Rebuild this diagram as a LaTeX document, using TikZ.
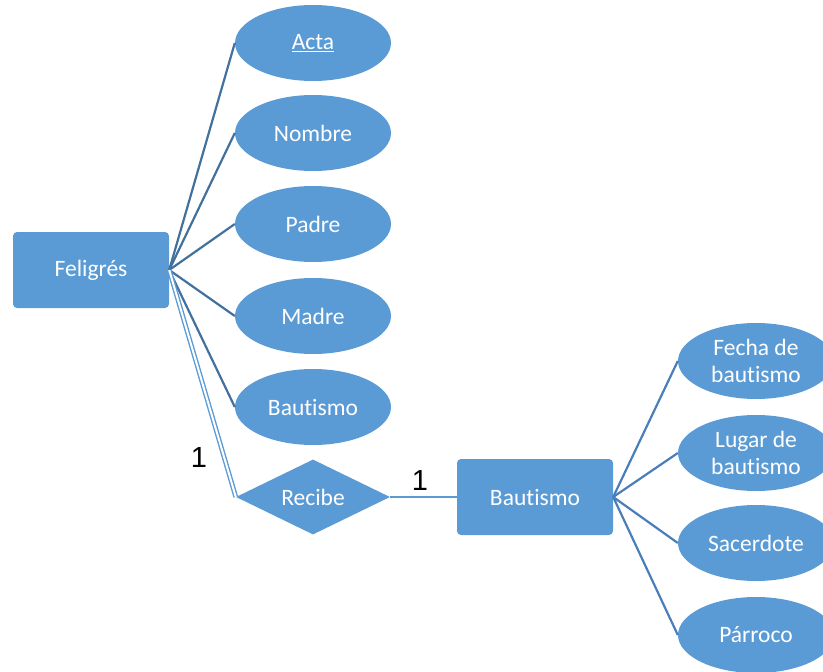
\documentclass[tikz,border=0pt]{standalone}
\usepackage{fontspec}
\setmainfont{Carlito}[Ligatures=NoCommon]
\newfontfamily\numfont{Liberation Sans}
\usetikzlibrary{shapes.geometric}
\definecolor{boxblue}{HTML}{5B9BD5}
\definecolor{linkdark}{HTML}{41719C}
\definecolor{linkmid}{HTML}{4A7EBB}
\tikzset{
  labelfont/.style={font=\fontsize{23.5}{27}\selectfont},
  entity/.style={rectangle, rounded corners=4pt, fill=boxblue, draw=none,
    minimum width=156pt, minimum height=76pt, inner sep=0pt,
    text=white, labelfont},
  attrib/.style={ellipse, fill=boxblue, draw=none,
    minimum width=156pt, minimum height=76pt, inner sep=0pt,
    text=white, align=center, labelfont},
  relation/.style={diamond, fill=boxblue, draw=none, aspect=2,
    minimum width=154pt, minimum height=75pt, inner sep=0pt,
    text=white, labelfont},
  attlink/.style={draw=linkdark, line width=2.2pt},
  attlinkr/.style={draw=linkmid, line width=2.2pt},
  card/.style={font=\numfont\fontsize{29}{32}\selectfont, text=black, inner sep=0pt}
}
\begin{document}
\begin{tikzpicture}[x=1pt,y=-1pt]
\useasboundingbox (0,0) rectangle (823,672);

% entity Feligrés and its attributes
\node[entity] (fel) at (91,270) {Feligrés};
\node[attrib] (acta) at (313,43) {\underline{Acta}};
\node[attrib] (nombre) at (313,133) {Nombre};
\node[attrib] (padre) at (313,224) {Padre};
\node[attrib] (madre) at (313,316) {Madre};
\node[attrib] (baut) at (313,407) {Bautismo};

% relationship and entity Bautismo
\node[relation] (recibe) at (313,497) {Recibe};
\node[entity] (bautent) at (535,497) {Bautismo};

% attributes of Bautismo
\node[attrib] (fecha) at (756,361) {Fecha de\\bautismo};
\node[attrib] (lugar) at (756,453) {Lugar de\\bautismo};
\node[attrib] (sacer) at (756,543) {Sacerdote};
\node[attrib] (parroco) at (756,635) {Párroco};

% attribute links
\foreach \a in {acta,nombre,padre,madre,baut}
  \draw[attlink] (fel.east) -- (\a.west);
\foreach \a in {fecha,lugar,sacer,parroco}
  \draw[attlinkr] (bautent.east) -- (\a.west);

% relationship links
\draw[draw=boxblue, double=white, double distance=2pt, line width=1.4pt]
  (fel.east) -- (recibe.west);
\draw[draw=boxblue, line width=2.2pt] (recibe.east) -- (bautent.west);

% cardinalities
\node[card] (c1) at (199,458) {1};
\node[card] (c2) at (420,481) {1};
\end{tikzpicture}
\end{document}
